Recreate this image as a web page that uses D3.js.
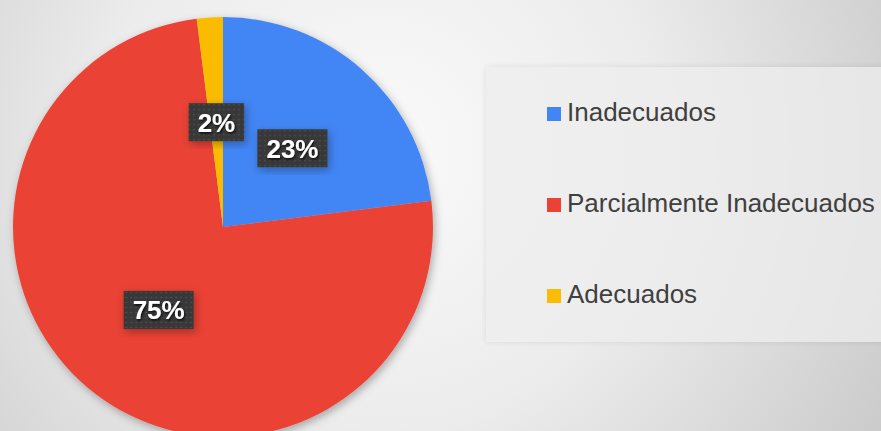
<!DOCTYPE html>
<html><head><meta charset="utf-8">
<script src="https://cdn.jsdelivr.net/npm/d3@7"></script>
<style>html,body{margin:0;padding:0;overflow:hidden;}svg{display:block;}</style>
</head><body>
<svg id="chart" width="881" height="431"></svg>
<script>
const categories = ["Inadecuados", "Parcialmente Inadecuados", "Adecuados"];
const values = [23, 75, 2];
const labels = ["23%", "75%", "2%"];
const colors = ["#4285f4", "#ea4335", "#fbbc04"];

const W = 881, H = 431;
const svg = d3.select("#chart");
const defs = svg.append("defs");

const bg = defs.append("radialGradient").attr("id","bg")
  .attr("gradientUnits","userSpaceOnUse").attr("cx",380).attr("cy",150).attr("r",620);
bg.append("stop").attr("offset","0").attr("stop-color","#fafafa");
bg.append("stop").attr("offset","0.45").attr("stop-color","#ececec");
bg.append("stop").attr("offset","1").attr("stop-color","#c6c6c6");

const sh = defs.append("filter").attr("id","sh").attr("x","-20%").attr("y","-20%").attr("width","140%").attr("height","140%");
sh.append("feDropShadow").attr("dx",2).attr("dy",3).attr("stdDeviation",4).attr("flood-color","#000").attr("flood-opacity",0.3);
const tsh = defs.append("filter").attr("id","tsh").attr("x","-20%").attr("y","-20%").attr("width","140%").attr("height","140%");
tsh.append("feDropShadow").attr("dx",1).attr("dy",1.5).attr("stdDeviation",1).attr("flood-color","#000").attr("flood-opacity",0.8);
const lsh = defs.append("filter").attr("id","lsh").attr("x","-10%").attr("y","-10%").attr("width","120%").attr("height","120%");
lsh.append("feDropShadow").attr("dx",0).attr("dy",0).attr("stdDeviation",3).attr("flood-color","#000").attr("flood-opacity",0.12);

const pat = defs.append("pattern").attr("id","dots").attr("patternUnits","userSpaceOnUse").attr("width",5).attr("height",5);
pat.append("rect").attr("width",5).attr("height",5).attr("fill","#383838");
pat.append("circle").attr("cx",2.5).attr("cy",2.5).attr("r",0.8).attr("fill","#555");

svg.append("rect").attr("width",W).attr("height",H).attr("fill","url(#bg)");

// legend box
svg.append("rect").attr("x",486).attr("y",67).attr("width",420).attr("height",275)
  .attr("fill","#eeeeee").attr("opacity",0.75).attr("filter","url(#lsh)");

const cx = 223, cy = 227, R = 210;
const pie = d3.pie().sort(null).value(d => d)(values);
const arc = d3.arc().innerRadius(0).outerRadius(R);

const g = svg.append("g").attr("transform",`translate(${cx},${cy})`);
g.append("g").attr("filter","url(#sh)").selectAll("path").data(pie).join("path")
  .attr("d", arc).attr("fill",(d,i)=>colors[i]);

const lab = g.selectAll("g.lab").data(pie).join("g").attr("class","lab")
  .attr("transform", d => `translate(${arc.centroid(d)})`);
lab.each(function(d,i){
  const s = d3.select(this);
  const t = s.append("text").text(labels[i])
    .attr("font-family","Liberation Sans, Arial, sans-serif").attr("font-weight","bold")
    .attr("font-size",26).attr("fill","#fff").attr("text-anchor","middle").attr("dy","0.36em")
    .attr("filter","url(#tsh)");
  const bb = t.node().getBBox();
  s.insert("rect","text").attr("x",bb.x-9).attr("y",-19).attr("width",bb.width+18).attr("height",38)
    .attr("fill","url(#dots)").attr("filter","url(#sh)");
});

const leg = svg.append("g");
const ly = d3.scalePoint().domain(categories).range([121, 303]);
categories.forEach((c,i)=>{
  leg.append("rect").attr("x",547).attr("y",ly(c)-14).attr("width",14).attr("height",14).attr("fill",colors[i]);
  leg.append("text").attr("x",567).attr("y",ly(c)).text(c)
    .attr("font-family","Liberation Sans, Arial, sans-serif").attr("font-size",26).attr("fill","#404040");
});
</script>
</body></html>
